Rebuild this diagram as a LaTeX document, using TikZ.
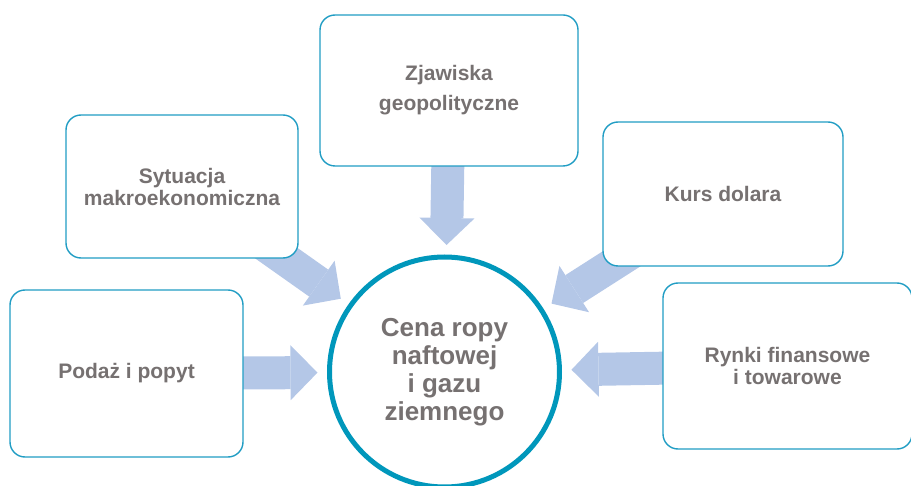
\documentclass[tikz,border=0pt]{standalone}
\usepackage{fontspec}
\setmainfont{Liberation Sans}
\usetikzlibrary{arrows.meta,backgrounds}
\definecolor{ramka}{RGB}{33,157,196}
\definecolor{kolo}{RGB}{0,151,187}
\definecolor{strzalka}{RGB}{180,199,231}
\definecolor{tekst}{RGB}{118,113,113}

\begin{document}
\begin{tikzpicture}[line join=round,x=1pt,y=-1pt,
	czynnik/.style={draw=ramka,line width=1.4pt,fill=white,rounded corners=15pt,inner sep=0pt,align=center,text=tekst,font=\bfseries\fontsize{21}{22}\selectfont},
	gruba/.style={draw=strzalka,line width=33pt,-{Triangle[width=55pt,length=27pt,line width=0pt]},shorten >=9.5pt}]
	\clip (0,0) rectangle (911,486);
	\node[czynnik,minimum width=258pt,minimum height=151pt] (zjawiska) at (449,90.5) {Zjawiska\\[8pt]geopolityczne};
	\node[czynnik,minimum width=232pt,minimum height=143pt] (sytuacja) at (182,186.5) {Sytuacja\\makroekonomiczna};
	\node[czynnik,minimum width=240pt,minimum height=144pt] (kurs) at (723,194) {Kurs dolara};
	\node[czynnik,minimum width=233pt,minimum height=167pt] (podaz) at (126.5,373.5) {Podaż i popyt};
	\node[czynnik,minimum width=249pt,minimum height=166pt] (rynki) at (787.5,366) {Rynki finansowe\\i towarowe};
	\node[circle,draw=kolo,line width=5pt,fill=white,minimum size=230pt,inner sep=0pt,align=center,text=tekst,font=\bfseries\fontsize{26}{28}\selectfont] (cena) at (444.5,372) {Cena ropy\\naftowej\\i gazu\\ziemnego};
	% strzalki pod ramkami
	\begin{scope}[on background layer]
		\draw[gruba] (zjawiska.center) -- (cena);
		\draw[gruba] (sytuacja.center) -- (cena);
		\draw[gruba] (kurs.center) -- (cena);
		\draw[gruba] (podaz.center) -- (cena);
		\draw[gruba] (rynki.center) -- (cena);
	\end{scope}
\end{tikzpicture}
\end{document}
